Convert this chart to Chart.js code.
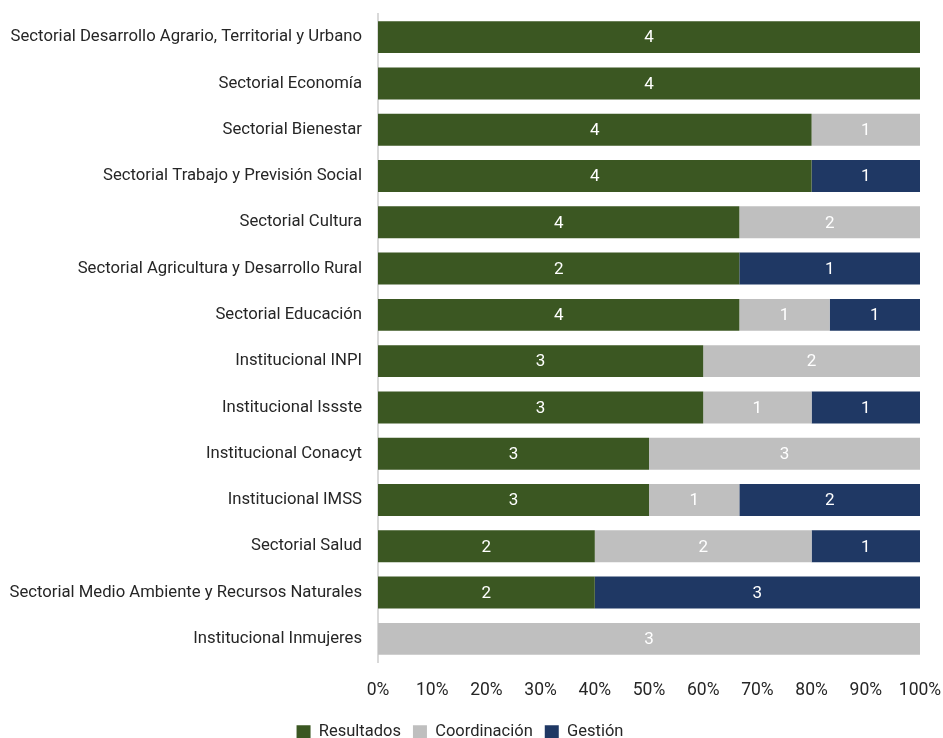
<!DOCTYPE html>
<html>
<head>
<meta charset="utf-8">
<script src="https://cdn.jsdelivr.net/npm/chart.js@4/dist/chart.umd.min.js"></script>
<style>
  html, body { margin: 0; padding: 0; background: #fff; }
  #wrap { width: 943px; height: 738px; position: relative; }
</style>
</head>
<body>
<div id="wrap"><canvas id="chart"></canvas></div>
<script>
// categorías (de arriba hacia abajo)
const categories = [
    "Sectorial Desarrollo Agrario, Territorial y Urbano",
    "Sectorial Economía",
    "Sectorial Bienestar",
    "Sectorial Trabajo y Previsión Social",
    "Sectorial Cultura",
    "Sectorial Agricultura y Desarrollo Rural",
    "Sectorial Educación",
    "Institucional INPI",
    "Institucional Issste",
    "Institucional Conacyt",
    "Institucional IMSS",
    "Sectorial Salud",
    "Sectorial Medio Ambiente y Recursos Naturales",
    "Institucional Inmujeres"
];

// número de elementos por tipo
const resultados   = [4, 4, 4, 4, 4, 2, 4, 3, 3, 3, 3, 2, 2, 0];
const coordinacion = [0, 0, 1, 0, 2, 0, 1, 2, 1, 3, 1, 2, 0, 3];
const gestion      = [0, 0, 0, 1, 0, 1, 1, 0, 1, 0, 2, 1, 3, 0];

const xTicks = ["0%", "10%", "20%", "30%", "40%", "50%", "60%", "70%", "80%", "90%", "100%"];

const fontName = "'Roboto', sans-serif";

// porcentaje de cada serie sobre el total de la fila
const totals = categories.map((c, i) => resultados[i] + coordinacion[i] + gestion[i]);
const pct = arr => arr.map((v, i) => v / totals[i] * 100);

const countLabels = {
    id: "countLabels",
    afterDatasetsDraw(chart) {
        const ctx = chart.ctx;
        ctx.save();
        ctx.font = "17px " + fontName;
        ctx.fillStyle = "#ffffff";
        ctx.textAlign = "center";
        ctx.textBaseline = "middle";
        chart.data.datasets.forEach((ds, di) => {
            const meta = chart.getDatasetMeta(di);
            meta.data.forEach((bar, i) => {
                const n = ds.counts[i];
                if (!n) return;
                const left = Math.min(bar.x, bar.base);
                const right = Math.max(bar.x, bar.base);
                ctx.fillText(String(n), (left + right) / 2, bar.y + 1);
            });
        });
        ctx.restore();
    }
};

// la leyenda ocupa menos alto que su padding (queda pegada abajo)
const shortLegend = {
    id: "shortLegend",
    afterInit(chart) {
        const lg = chart.legend;
        if (!lg) return;
        const fit = lg.fit.bind(lg);
        lg.fit = function () {
            fit();
            this.height = 26;
        };
    }
};

const ctx = document.getElementById("chart").getContext("2d");
new Chart(ctx, {
    type: "bar",
    data: {
        labels: categories,
        datasets: [
            { label: "Resultados", data: pct(resultados), counts: resultados, backgroundColor: "#3b5722" },
            { label: "Coordinación", data: pct(coordinacion), counts: coordinacion, backgroundColor: "#bfbfbf" },
            { label: "Gestión", data: pct(gestion), counts: gestion, backgroundColor: "#1f3864" }
        ]
    },
    options: {
        indexAxis: "y",
        responsive: true,
        maintainAspectRatio: false,
        animation: false,
        layout: { padding: { top: 14, right: 23, left: 0, bottom: 0 } },
        datasets: {
            bar: { barPercentage: 0.69, categoryPercentage: 1, borderWidth: 0 }
        },
        scales: {
            x: {
                stacked: true,
                min: 0,
                max: 100,
                grid: { display: false, drawTicks: false },
                border: { display: false },
                ticks: {
                    stepSize: 10,
                    padding: 18,
                    color: "#262626",
                    font: { family: fontName, size: 17.5 },
                    callback: (v, i) => xTicks[i]
                },
                afterFit(scale) {
                    scale.paddingLeft = 0;
                    scale.paddingRight = 0;
                    scale.height = 50;
                }
            },
            y: {
                stacked: true,
                grid: { display: false, drawTicks: false },
                border: { display: true, color: "#d9d9d9", width: 2 },
                ticks: {
                    padding: 16,
                    color: "#262626",
                    font: { family: fontName, size: 16.7 }
                },
                afterFit(scale) {
                    scale.paddingTop = 0;
                    scale.paddingBottom = 0;
                    scale.width = 378;
                }
            }
        },
        plugins: {
            legend: {
                position: "bottom",
                labels: {
                    boxWidth: 14,
                    boxHeight: 14,
                    padding: 12,
                    color: "#262626",
                    font: { family: fontName, size: 16.5 }
                }
            },
            tooltip: { enabled: false }
        }
    },
    plugins: [countLabels, shortLegend]
});
</script>
</body>
</html>
